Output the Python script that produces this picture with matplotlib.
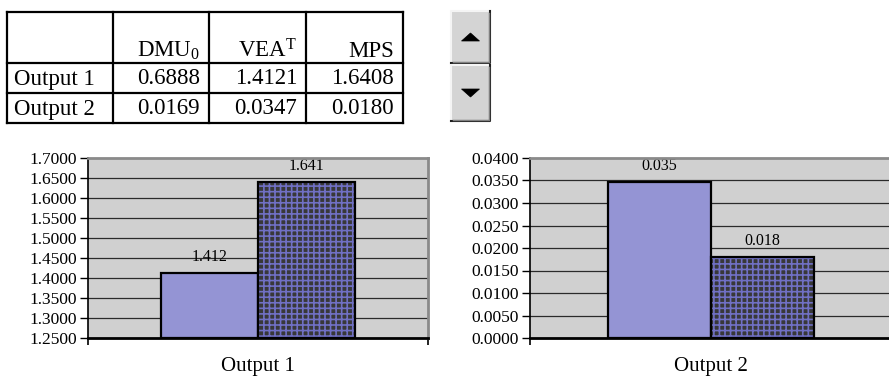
import matplotlib
matplotlib.use("Agg")
import matplotlib.pyplot as plt
from matplotlib.patches import Rectangle, Polygon

plt.rcParams['font.family'] = ['Liberation Serif', 'DejaVu Serif']
plt.rcParams['mathtext.fontset'] = 'custom'
plt.rcParams['mathtext.rm'] = 'Liberation Serif'
plt.rcParams['mathtext.it'] = 'Liberation Serif:italic'
plt.rcParams['hatch.linewidth'] = 1.2

# ---- data ----
outputs = ["Output 1", "Output 2"]
col_headers = [r"DMU$_\mathrm{0}$", r"VEA$^\mathrm{T}$", "MPS"]
dmu0 = [0.6888, 0.0169]
vea_t = [1.4121, 0.0347]
mps = [1.6408, 0.0180]
y_limits = [(1.25, 1.70), (0.0, 0.04)]
y_steps = [0.05, 0.005]

W, H = 889, 376
fig = plt.figure(figsize=(W / 100, H / 100), dpi=100)

# overlay in pixel space for the table and the spin control
ov = fig.add_axes([0, 0, 1, 1])
ov.set_xlim(0, W)
ov.set_ylim(H, 0)
ov.axis("off")

# ---- table ----
col_x = [7, 113, 209, 306, 403]
row_y = [12, 63, 93, 123]
lw_tab = 1.6
for x in col_x:
    ov.plot([x, x], [row_y[0], row_y[-1]], color="black", lw=lw_tab, solid_capstyle="projecting")
for y in row_y:
    ov.plot([col_x[0], col_x[-1]], [y, y], color="black", lw=lw_tab, solid_capstyle="projecting")

fs_tab = 16.5
for j, hdr in enumerate(col_headers):
    ov.text(col_x[j + 2] - 9, row_y[1] - 6, hdr, ha="right", va="baseline", fontsize=fs_tab)
table_rows = [[dmu0[i], vea_t[i], mps[i]] for i in range(len(outputs))]
for i, name in enumerate(outputs):
    yc = (row_y[i + 1] + row_y[i + 2]) / 2 + 1
    ov.text(col_x[0] + 7, yc, name, ha="left", va="center", fontsize=fs_tab)
    for j, v in enumerate(table_rows[i]):
        ov.text(col_x[j + 2] - 9, yc, f"{v:.4f}", ha="right", va="center", fontsize=fs_tab)

# ---- spin control ----
def button(x0, y0, x1, y1, up):
    ov.add_patch(Rectangle((x0, y0), x1 - x0, y1 - y0, facecolor="#D4D4D4", edgecolor="none"))
    ov.plot([x0, x0, x1], [y1, y0, y0], color="#F4F4F4", lw=1.5)
    ov.plot([x0, x1, x1], [y1, y1, y0], color="#202020", lw=1.5)
    ov.plot([x0 + 1.5, x1 - 1.5, x1 - 1.5], [y1 - 1.5, y1 - 1.5, y0 + 1.5], color="#808080", lw=1.0)
    cx = (x0 + x1) / 2
    cy = (y0 + y1) / 2
    if up:
        tri = [(cx - 9, cy + 4), (cx + 9, cy + 4), (cx, cy - 4)]
    else:
        tri = [(cx - 9, cy - 4), (cx + 9, cy - 4), (cx, cy + 4)]
    ov.add_patch(Polygon(tri, closed=True, facecolor="black", edgecolor="black", lw=0.5))

button(451, 11, 490, 63, True)
button(451, 65, 490, 121, False)

# ---- bar charts ----
plot_boxes = [(88, 428), (530, 892)]
top_px, bot_px = 158, 338
color_vea = "#9494D4"
color_mps = "#383838"
hatch_col = "#7070C4"
gap_width = 1.5
bw = 1.0 / (2 + gap_width)

for k, name in enumerate(outputs):
    x0, x1 = plot_boxes[k]
    ax = fig.add_axes([x0 / W, (H - bot_px) / H, (x1 - x0) / W, (bot_px - top_px) / H])
    ax.set_facecolor("#D0D0D0")
    lo, hi = y_limits[k]
    ax.set_ylim(lo, hi)
    ax.set_xlim(-0.5, 0.5)
    step = y_steps[k]
    n = int(round((hi - lo) / step))
    ticks = [lo + i * step for i in range(n + 1)]
    ax.set_yticks(ticks)
    ax.set_yticklabels([f"{t:.4f}" for t in ticks], fontsize=12.5)
    for t in ticks[1:-1]:
        ax.axhline(t, color="#2A2A2A", lw=0.9, zorder=1)

    # VEA^T bar
    ax.bar(-bw / 2, vea_t[k] - lo, bw, bottom=lo, color=color_vea,
           edgecolor="black", lw=1.6, zorder=3)
    # MPS bar: hatched fill, then its outline
    ax.bar(bw / 2, mps[k] - lo, bw, bottom=lo, color=color_mps,
           edgecolor=hatch_col, hatch="+++", lw=0, zorder=3)
    ax.bar(bw / 2, mps[k] - lo, bw, bottom=lo, fill=False,
           edgecolor="black", lw=1.6, zorder=4)

    span = hi - lo
    for xc, v in [(-bw / 2, vea_t[k]), (bw / 2, mps[k])]:
        ax.text(xc, v + span * 0.045, f"{v:.3f}", ha="center", va="bottom",
                fontsize=11.5, zorder=5)

    ax.set_xticks([-0.5, 0.5])
    ax.set_xticklabels(["", ""])
    ax.tick_params(axis="x", direction="out", length=5, width=1.2, color="black")
    ax.tick_params(axis="y", direction="out", length=6, width=1.0, color="black", pad=2)
    ax.text(0.5, -0.16, name, transform=ax.transAxes, ha="center", va="center", fontsize=15)

    ax.spines["left"].set_color("black")
    ax.spines["left"].set_linewidth(1.2)
    ax.spines["bottom"].set_color("black")
    ax.spines["bottom"].set_linewidth(2.0)
    ax.spines["top"].set_color("#8A8A8A")
    ax.spines["top"].set_linewidth(2.0)
    ax.spines["right"].set_color("#8A8A8A")
    ax.spines["right"].set_linewidth(2.0)
    for s in ax.spines.values():
        s.set_zorder(6)

fig.savefig("out.png", dpi=100)
